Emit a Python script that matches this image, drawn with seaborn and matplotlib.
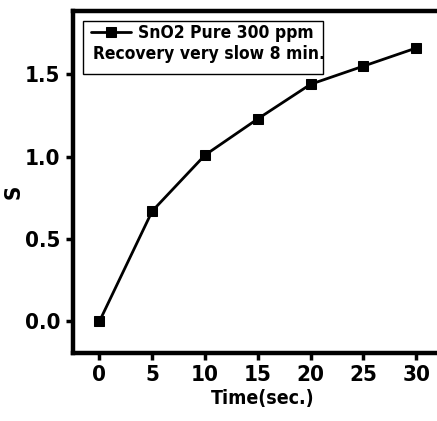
import matplotlib
matplotlib.use("Agg")
import matplotlib.pyplot as plt
from matplotlib.patches import Rectangle
import pandas as pd
import seaborn as sns

# data
time_sec = [0, 5, 10, 15, 20, 25, 30]
response = [0.0, 0.67, 1.01, 1.23, 1.44, 1.55, 1.66]
x_ticks = [0, 5, 10, 15, 20, 25, 30]
y_ticks = [0.0, 0.5, 1.0, 1.5]
label_1 = "SnO2 Pure 300 ppm"
label_2 = "Recovery very slow 8 min."

sns.set_theme(style="ticks")
plt.rcParams["font.family"] = ["DejaVu Sans"]
plt.rcParams["font.stretch"] = "condensed"
plt.rcParams["font.weight"] = "bold"
plt.rcParams["text.color"] = "black"
plt.rcParams["axes.labelcolor"] = "black"
plt.rcParams["xtick.color"] = "black"
plt.rcParams["ytick.color"] = "black"
plt.rcParams["axes.edgecolor"] = "black"

df = pd.DataFrame({"Time": time_sec, "S": response})

fig = plt.figure(figsize=(4.37, 4.21), dpi=100)
ax = fig.add_axes([0.167, 0.162, 0.87, 0.812])

sns.lineplot(data=df, x="Time", y="S", ax=ax, color="black", linewidth=2,
             marker="s", markersize=7, markeredgecolor="black",
             label=label_1)

ax.set_xlim(-2.5, 33.5)
ax.set_ylim(-0.19, 1.885)
ax.set_xticks(x_ticks)
ax.set_yticks(y_ticks)
ax.set_yticklabels([f"{v:.1f}" for v in y_ticks])
ax.tick_params(axis="both", direction="out", length=5, width=2.5,
               labelsize=16, pad=4)
for side in ["left", "bottom", "top", "right"]:
    ax.spines[side].set_linewidth(3.2)
    ax.spines[side].set_visible(True)

ax.set_xlabel("Time(sec.)", fontsize=14, fontweight="bold", labelpad=3)
ax.set_ylabel("S", fontsize=16, fontweight="bold")
ax.yaxis.set_label_coords(-0.13, 0.47)

# legend box: one entry with handle and a second text line
leg = ax.legend(loc="upper left", bbox_to_anchor=(0.018, 0.995), frameon=False,
                fontsize=12.5, handlelength=2.3, handletextpad=0.4,
                borderaxespad=0.3, borderpad=0.35)
ax.text(0.052, 0.873, label_2, transform=ax.transAxes, fontsize=12.5,
        fontweight="bold", va="center", ha="left")
ax.add_patch(Rectangle((0.026, 0.817), 0.632, 0.153, transform=ax.transAxes,
                       fill=False, edgecolor="black", linewidth=1.0))

fig.savefig("out.png", dpi=100)
